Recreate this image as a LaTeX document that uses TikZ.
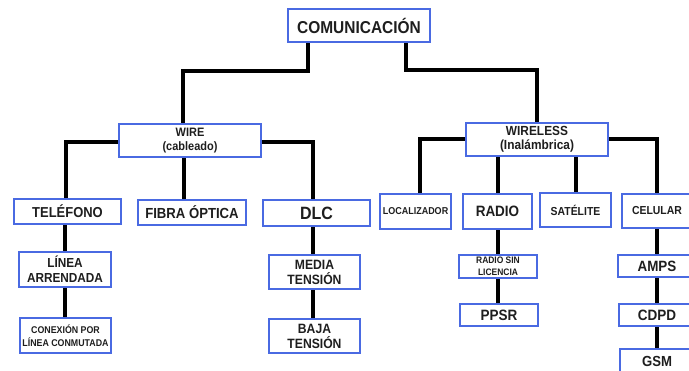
\documentclass[tikz,border=0pt]{standalone}
\usepackage{fontspec}
\setmainfont{Liberation Sans}[FakeStretch=0.9]
\definecolor{bord}{RGB}{74,106,226}
\definecolor{txt}{RGB}{30,30,30}
\pgfdeclarelayer{bg}
\pgfsetlayers{bg,main}
\newcommand{\fs}[2]{\fontsize{#1}{#2}\selectfont}
\begin{document}
\begin{tikzpicture}[x=1pt,y=-1pt,
  box/.style={draw=bord, line width=2.2pt, fill=white, inner sep=0pt, outer sep=0pt, text=txt, align=center},
  conn/.style={line width=4pt, draw=black}]
\useasboundingbox (0,0) rectangle (689,371);
\clip (0,0) rectangle (689,371);
% top levels
\node[box, minimum width=142pt, minimum height=33pt, font=\bfseries\fs{17.2}{19}] (com) at (359,25.5) {COMUNICACIÓN};
\node[box, minimum width=142pt, minimum height=33pt, font=\bfseries\fs{12.2}{14}] (wire) at (190,140.5) {WIRE\\(cableado)};
\node[box, minimum width=142pt, minimum height=33pt, font=\bfseries\fs{13.2}{14.5}] (wireless) at (537,139.5) {WIRELESS\\(Inalámbrica)};
% wire children
\node[box, minimum width=107pt, minimum height=25pt, font=\bfseries\fs{14.4}{16}] (tel) at (67.5,211.5) {TELÉFONO};
\node[box, minimum width=108pt, minimum height=25pt, font=\bfseries\fs{14.6}{16}] (fib) at (192,212.5) {FIBRA ÓPTICA};
\node[box, minimum width=107pt, minimum height=26pt, font=\bfseries\fs{17.8}{19}] (dlc) at (316.5,213) {DLC};
\node[box, minimum width=92pt, minimum height=35pt, font=\bfseries\fs{13.1}{15}] (lin) at (65,269.5) {LÍNEA\\ARRENDADA};
\node[box, minimum width=91pt, minimum height=35pt, font=\bfseries\fs{9.8}{13}] (con) at (65.5,335.5) {CONEXIÓN POR\\LÍNEA CONMUTADA};
\node[box, minimum width=91pt, minimum height=34pt, font=\bfseries\fs{13.5}{15}] (med) at (314.5,272) {MEDIA\\TENSIÓN};
\node[box, minimum width=91pt, minimum height=34pt, font=\bfseries\fs{13.5}{15}] (baj) at (314.5,336) {BAJA\\TENSIÓN};
% wireless children
\node[box, minimum width=71pt, minimum height=35pt, font=\bfseries\fs{10}{12}] (loc) at (415.5,211.5) {LOCALIZADOR};
\node[box, minimum width=69pt, minimum height=35pt, font=\bfseries\fs{15}{16}] (rad) at (497.5,211.5) {RADIO};
\node[box, minimum width=71pt, minimum height=34pt, font=\bfseries\fs{11.6}{13}] (sat) at (575.5,210) {SATÉLITE};
\node[box, minimum width=70pt, minimum height=34pt, font=\bfseries\fs{11.6}{13}] (cel) at (657,211) {CELULAR};
\node[box, minimum width=78pt, minimum height=23pt, font=\bfseries\fs{9.4}{12}] (rsl) at (498,266.5) {RADIO SIN\\LICENCIA};
\node[box, minimum width=78pt, minimum height=22pt, font=\bfseries\fs{15}{16}] (pps) at (499,315) {PPSR};
\node[box, minimum width=78pt, minimum height=22pt, font=\bfseries\fs{14.9}{16}] (amp) at (657,266) {AMPS};
\node[box, minimum width=76pt, minimum height=22pt, font=\bfseries\fs{15}{16}] (cdp) at (657,315) {CDPD};
\node[box, minimum width=74pt, minimum height=24pt, font=\bfseries\fs{14.6}{16}] (gsm) at (657,361) {GSM};
% entry points
\coordinate (wirein) at ([xshift=-7pt]wire.north);
\coordinate (telin) at ([xshift=-1.5pt]tel.north);
\coordinate (fibin) at ([xshift=-8pt]fib.north);
\coordinate (dlcin) at ([xshift=-3.5pt]dlc.north);
\coordinate (medin) at ([xshift=-1.5pt]med.north);
\coordinate (bajin) at ([xshift=-1.5pt]baj.north);
\coordinate (locin) at ([xshift=4.5pt]loc.north);
\begin{pgfonlayer}{bg}
\draw[conn] ([xshift=-51pt]com.south) -- ++(0,29) -| (wirein);
\draw[conn] ([xshift=47pt]com.south) -- ++(0,28) -| (wireless.north);
\draw[conn] ([yshift=-1.5pt]wire.west) -| (telin);
\draw[conn] (fibin |- wire.south) -- (fibin);
\draw[conn] ([yshift=-1.5pt]wire.east) -| (dlcin);
\draw[conn] (lin.north |- tel.south) -- (lin.north);
\draw[conn] (lin.south) -- (lin.south |- con.north);
\draw[conn] (medin |- dlc.south) -- (medin);
\draw[conn] (bajin |- med.south) -- (bajin);
\draw[conn] (wireless.west) -| (locin);
\draw[conn] (rad.north |- wireless.south) -- (rad.north);
\draw[conn] (sat.north |- wireless.south) -- (sat.north);
\draw[conn] (wireless.east) -| (cel.north);
\draw[conn] (rad.south) -- (rad.south |- rsl.north);
\draw[conn] (rad.south |- rsl.south) -- (rad.south |- pps.north);
\draw[conn] (cel.south) -- (amp.north);
\draw[conn] (amp.south) -- (cdp.north);
\draw[conn] (cdp.south) -- (gsm.north);
\end{pgfonlayer}
\end{tikzpicture}
\end{document}
